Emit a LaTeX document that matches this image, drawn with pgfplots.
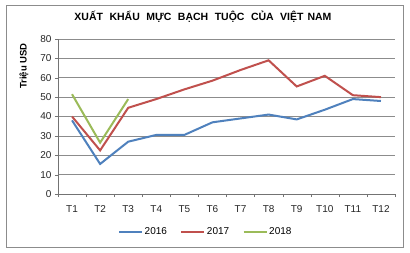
\documentclass[border=0pt]{standalone}
\usepackage{pgfplots}
\pgfplotsset{compat=1.18}
\usepackage{fontspec}
\setmainfont{Liberation Sans}
\begin{document}
\begin{tikzpicture}[x=1pt,y=1pt]
\path[fill=white] (-58,-58) rectangle (352,194);
\draw[color=black!45, line width=0.8pt] (-52,-53) rectangle (345,189);
\node[font=\fontsize{10.5}{12}\selectfont\bfseries] at (145,177) {XUẤT\hspace{6.5pt}KHẨU\hspace{6.5pt}MỰC\hspace{6.5pt}BẠCH\hspace{6.5pt}TUỘC\hspace{6.5pt}CỦA\hspace{6.5pt}VIỆT\hspace{4pt}NAM};
\begin{axis}[
  at={(0,0)}, anchor=south west,
  scale only axis, width=337pt, height=155pt,
  xmin=0.5, xmax=12.5, ymin=0, ymax=80,
  ytick={0,10,...,80},
  xtick={1,...,12},
  xticklabels={T1,T2,T3,T4,T5,T6,T7,T8,T9,T10,T11,T12},
  minor xtick={0.5,1.5,...,12.5},
  major x tick style={draw=none},
  minor tick length=3pt,
  major tick length=3pt,
  tick align=outside,
  xtick pos=bottom, ytick pos=left,
  tick style={color=black!55},
  ymajorgrids, grid style={color=black!45, line width=0.6pt},
  axis x line*=bottom, axis y line*=left,
  axis line style={color=black!55},
  every tick label/.append style={font=\fontsize{10}{11}\selectfont, color=black!85},
  xticklabel style={yshift=-5pt},
  /pgf/number format/assume math mode=true,
  ylabel={Triệu USD},
  every axis y label/.style={at={(rel axis cs:-0.101,0.826)}, rotate=90, anchor=center, font=\fontsize{9.5}{11}\selectfont\bfseries},
  legend style={at={(0.438,-0.245)}, anchor=center, draw=none, fill=none,
    legend columns=3, font=\fontsize{10}{11}\selectfont,
    /tikz/every odd column/.append style={column sep=0pt},
    /tikz/every even column/.append style={column sep=12pt},
    nodes={inner xsep=1.5pt}},
  legend image code/.code={\draw[#1, line width=2pt] (0pt,0pt) -- (23pt,0pt);},
  clip=false,
]
\addplot[color={rgb,255:red,79;green,129;blue,189}, line width=2pt, mark=none] coordinates {
(1,38) (2,15.5) (3,27) (4,30.5) (5,30.5) (6,37) (7,39) (8,41) (9,38.5) (10,43.5) (11,49) (12,48)};
\addlegendentry{2016}
\addplot[color={rgb,255:red,192;green,80;blue,77}, line width=2pt, mark=none] coordinates {
(1,40) (2,22.5) (3,44.5) (4,49) (5,54) (6,58.5) (7,64) (8,69) (9,55.5) (10,61) (11,51) (12,50)};
\addlegendentry{2017}
\addplot[color={rgb,255:red,155;green,187;blue,89}, line width=2pt, mark=none] coordinates {
(1,51.5) (2,26.5) (3,49)};
\addlegendentry{2018}
\end{axis}
\end{tikzpicture}
\end{document}
